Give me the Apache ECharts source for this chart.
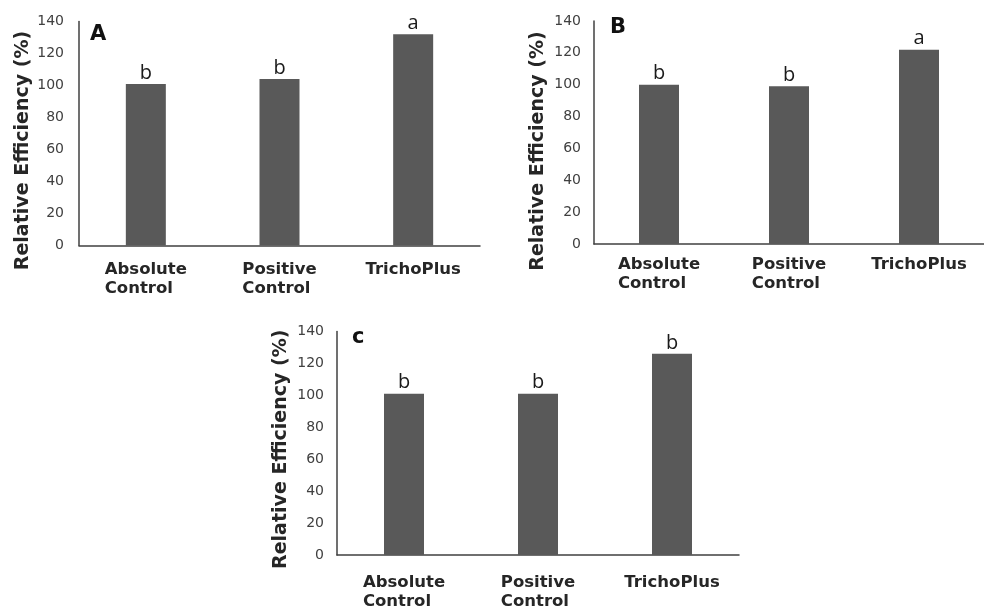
<!DOCTYPE html>
<html><head><meta charset="utf-8">
<script src="https://cdn.jsdelivr.net/npm/echarts@6/dist/echarts.min.js"></script>
<style>html,body{margin:0;padding:0;background:#fff}#c{width:984px;height:610px}</style>
</head><body><div id="c"></div>
<script>
const categories = ['Absolute\nControl', 'Positive\nControl', 'TrichoPlus'];
const valuesA = [101, 104, 132];
const valuesB = [100, 99, 122];
const valuesC = [101, 101, 126];
const lettersA = ['b', 'b', 'a'];
const lettersB = ['b', 'b', 'a'];
const lettersC = ['b', 'b', 'b'];
const panelNames = ['A', 'B', 'c'];
const yTitle = 'Relative Efficiency (%)';
const yMax = 140, yStep = 20;

const chart = echarts.init(document.getElementById('c'), null, {renderer: 'canvas'});
const grids = [
  {left: 79, top: 21.5, width: 401, height: 224},
  {left: 594, top: 21, width: 403, height: 223},
  {left: 337, top: 331.5, width: 402, height: 224.5}
];
const xMargins = [15, 11, 18];
const yMargins = [15, 13, 13];
const nameShift = [34, 37, 12];
const panelPos = [[90, 36], [610, 29], [352, 339]];
const vals = [valuesA, valuesB, valuesC];
const lets = [lettersA, lettersB, lettersC];
const lab = {fontFamily: 'DejaVu Sans', fontWeight: 'bold', fontSize: 16.5, color: '#262626', lineHeight: 19, align: 'left'};

const option = {
  animation: false,
  grid: grids,
  xAxis: grids.map((g, i) => ({
    type: 'category', gridIndex: i, data: categories,
    axisLine: {lineStyle: {color: '#404040', width: 1.5}},
    axisTick: {show: false},
    axisLabel: {
      margin: xMargins[i], interval: 0, align: 'center',
      formatter: v => v.split('\n').map(s => '{l|' + s + '}').join('\n'),
      rich: {l: lab}
    }
  })),
  yAxis: grids.map((g, i) => ({
    type: 'value', gridIndex: i, min: 0, max: yMax, interval: yStep,
    axisLine: {show: true, lineStyle: {color: '#404040', width: 1.5}},
    axisTick: {show: false},
    splitLine: {show: false},
    axisLabel: {margin: yMargins[i], fontFamily: 'DejaVu Sans', fontSize: 14, color: '#404040'},
    name: yTitle, nameLocation: 'middle', nameRotate: 90, nameGap: 46,
    nameTextStyle: {fontFamily: 'DejaVu Sans', fontWeight: 'bold', fontSize: 19, color: '#262626', padding: [0, nameShift[i], 0, 0]}
  })),
  series: vals.map((v, i) => ({
    type: 'bar', xAxisIndex: i, yAxisIndex: i, data: v, barWidth: 40,
    itemStyle: {color: '#595959'},
    label: {show: true, position: 'top', distance: 1, fontFamily: 'Open Sans', fontSize: 20, color: '#1a1a1a',
      formatter: p => lets[i][p.dataIndex]}
  })),
  graphic: panelNames.map((t, i) => ({
    type: 'text', left: panelPos[i][0], top: panelPos[i][1] - 12,
    style: {text: t, font: 'bold 21px "DejaVu Sans"', fill: '#111'}
  }))
};
chart.setOption(option);
</script></body></html>
